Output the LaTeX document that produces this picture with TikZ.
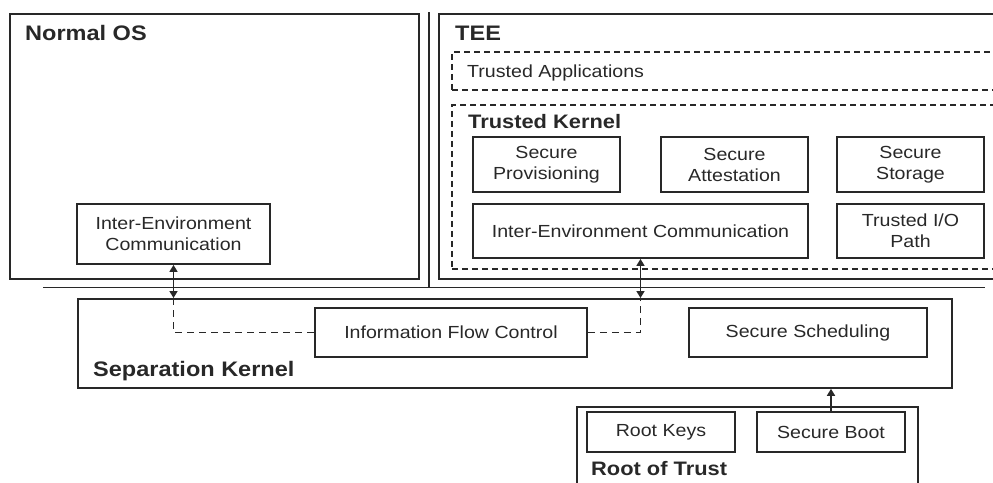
\documentclass[tikz,border=0pt]{standalone}
\usepackage{fontspec}
\setmainfont{Liberation Sans}[FakeStretch = 1.12]
\usetikzlibrary{arrows.meta}
\definecolor{ink}{RGB}{40,40,40}

\begin{document}
\begin{tikzpicture}[x = 1pt, y = -1pt,
	frame/.style = {draw = ink, line width = 1.8pt, inner sep = 0pt, anchor = north west},
	dashframe/.style = {frame, dash pattern = on 6pt off 4pt},
	block/.style = {draw = ink, line width = 1.8pt, inner sep = 0pt, align = center, text = ink, font = \fontsize{17.5}{21}\selectfont},
	title/.style = {anchor = base west, inner sep = 0pt, text = ink, font = \bfseries\fontsize{21}{24}\selectfont},
	subtitle/.style = {title, font = \bfseries\fontsize{19.5}{22}\selectfont},
	plain/.style = {anchor = base west, inner sep = 0pt, text = ink, font = \fontsize{17.5}{21}\selectfont},
	link/.style = {draw = ink, line width = 1.6pt},
	tip/.style = {link, {Triangle[length = 7pt, width = 8pt]}-{Triangle[length = 7pt, width = 8pt]}},
	flow/.style = {link, dash pattern = on 7pt off 5pt}]

	% Definition

	\def\bw{147}
	\def\bh{55}

	\useasboundingbox (0, 0) rectangle (993, 482);
	\clip (0, 0) rectangle (993, 482);

	% Normal OS

	\node [frame, minimum width = 409, minimum height = 265] (normalOS) at (9, 13) {};
	\node [title] at (25, 40.5) {Normal OS};
	\node [block, minimum width = 193, minimum height = 60] (ieNormal) at (173.5, 234) {Inter-Environment\\Communication};

	% TEE

	\node [frame, minimum width = 600, minimum height = 265] (tee) at (438, 13) {};
	\node [title] at (455, 40.5) {TEE};

	\node [dashframe, minimum width = 600, minimum height = 38] (trustedApps) at (451, 51) {};
	\node [plain] at (467, 77) {Trusted Applications};

	\node [dashframe, minimum width = 600, minimum height = 164] (trustedKernel) at (451, 104) {};
	\node [subtitle] at (468, 128) {Trusted Kernel};

	\node [block, minimum width = \bw, minimum height = \bh] (provisioning) at (546.5, 164.5) {Secure\\Provisioning};
	\node [block, minimum width = \bw, minimum height = \bh] (attestation) at (734.5, 164.5) {Secure\\Attestation};
	\node [block, minimum width = \bw, minimum height = \bh] (storage) at (910.5, 164.5) {Secure\\Storage};
	\node [block, minimum width = 335, minimum height = 54] (ieTee) at (640.5, 231) {Inter-Environment Communication};
	\node [block, minimum width = \bw, minimum height = 54] (trustedIO) at (910.5, 231) {Trusted I/O\\Path};

	% Separators

	\draw [link, line width = 1.8pt] (429, 12) -- (429, 287.5);
	\draw [link, line width = 1.8pt] (43, 287.5) -- (985, 287.5);

	% Separation Kernel

	\node [frame, minimum width = 874, minimum height = 89] (sepKernel) at (77, 298) {};
	\node [title] at (93, 376) {Separation Kernel};
	\node [block, minimum width = 272, minimum height = 49] (flowCtrl) at (451, 332.5) {Information Flow Control};
	\node [block, minimum width = 238, minimum height = 49] (scheduling) at (808, 332.5) {Secure Scheduling};

	% Root of Trust

	\node [frame, minimum width = 341, minimum height = 120] (rootTrust) at (576, 406) {};
	\node [subtitle] at (591, 475) {Root of Trust};
	\node [block, minimum width = 148, minimum height = 40] (rootKeys) at (661, 432) {Root Keys};
	\node [block, minimum width = 148, minimum height = 40] (secureBoot) at (831, 432) {Secure Boot};

	% Connections

	\draw [tip] (ieNormal.south) -- (ieNormal.south |- sepKernel.north);
	\draw [tip] (ieTee.south) -- (ieTee.south |- sepKernel.north);
	\draw [flow] (ieNormal.south |- sepKernel.north) |- (flowCtrl.west);
	\draw [flow] (flowCtrl.east) -| (ieTee.south |- sepKernel.north);
	\draw [link, -{Triangle[length = 7pt, width = 8pt]}] (secureBoot.north) -- (secureBoot.north |- sepKernel.south);

\end{tikzpicture}
\end{document}
